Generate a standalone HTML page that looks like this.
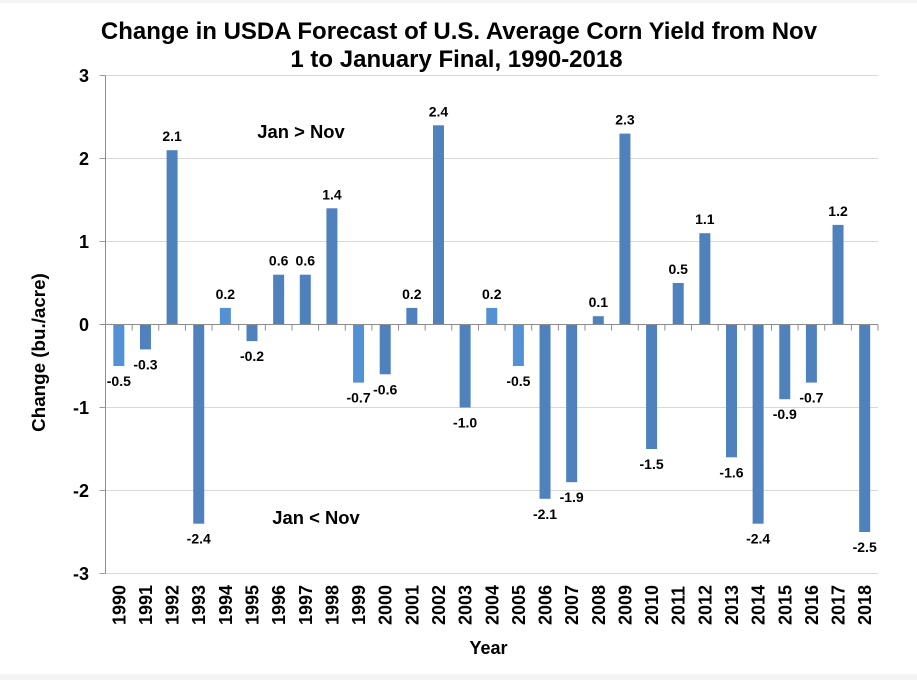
<!DOCTYPE html>
<html lang="en">
<head>
<meta charset="utf-8">
<title>Change in USDA Forecast of U.S. Average Corn Yield</title>
<style>
html,body{margin:0;padding:0;background:#fff;}
body{width:917px;height:680px;overflow:hidden;}
svg{display:block;}
text{font-family:"Liberation Sans",Arial,sans-serif;font-weight:bold;fill:#000;}
</style>
</head>
<body>
<svg id="chart" xmlns="http://www.w3.org/2000/svg" width="917" height="680" viewBox="0 0 917 680">
  <rect x="0" y="0" width="917" height="3" fill="#f4f4f4"/>
  <rect x="0" y="674" width="917" height="6" fill="#f4f4f4"/>
  <text x="459" y="39" font-size="24" text-anchor="middle">Change in USDA Forecast of U.S. Average Corn Yield from Nov</text>
  <text x="456.5" y="67" font-size="24" text-anchor="middle">1 to January Final, 1990-2018</text>
  <text x="301" y="138" font-size="18.4" text-anchor="middle">Jan &gt; Nov</text>
  <text x="316" y="524" font-size="18.4" text-anchor="middle">Jan &lt; Nov</text>
  <text x="488.5" y="654" font-size="18" text-anchor="middle">Year</text>
  <text transform="translate(45,352.5) rotate(-90)" font-size="18.8" text-anchor="middle">Change (bu./acre)</text>
  <g id="grid"></g>
  <g id="bars"></g>
  <g id="axes"></g>
  <g id="labels"></g>
</svg>
<script>
const years = [1990,1991,1992,1993,1994,1995,1996,1997,1998,1999,2000,2001,2002,2003,2004,2005,2006,2007,2008,2009,2010,2011,2012,2013,2014,2015,2016,2017,2018];
const changes = [-0.5,-0.3,2.1,-2.4,0.2,-0.2,0.6,0.6,1.4,-0.7,-0.6,0.2,2.4,-1.0,0.2,-0.5,-2.1,-1.9,0.1,2.3,-1.5,0.5,1.1,-1.6,-2.4,-0.9,-0.7,1.2,-2.5];
const yTicks = [3,2,1,0,-1,-2,-3];
const lighterYears = [1990,1994,1999,2004,2005];

const NS = 'http://www.w3.org/2000/svg';
const plotLeft = 105.5, plotRight = 878, plotTop = 75.5, plotBottom = 573.5;
const yMin = -3, yMax = 3;
const step = (plotRight - plotLeft) / years.length;
const barWidth = 11;
function xScale(i){ return plotLeft + step * (i + 0.5); }
function yScale(v){ return plotTop + (yMax - v) / (yMax - yMin) * (plotBottom - plotTop); }
function make(tag, parent, attrs, content){
  const el = document.createElementNS(NS, tag);
  for (const k in attrs) el.setAttribute(k, attrs[k]);
  if (content !== undefined) el.textContent = content;
  parent.appendChild(el);
  return el;
}
const grid = document.getElementById('grid');
const bars = document.getElementById('bars');
const axes = document.getElementById('axes');
const labels = document.getElementById('labels');

yTicks.forEach(function(t){
  const y = yScale(t);
  if (t !== 0) {
    const g = make('line', grid, {x1: plotLeft, x2: plotRight, y1: y, y2: y, stroke: '#d9d9d9', 'stroke-width': 1});
    
    
  }
  const m = make('line', axes, {x1: plotLeft - 6, x2: plotLeft, y1: y, y2: y, stroke: '#9a9a9a', 'stroke-width': 1});
  
  
  const l = make('text', labels, {x: 89, y: y + 6.5, 'font-size': 18, 'text-anchor': 'end'}, String(t));
  
  
});

years.forEach(function(yr, i){
  const v = changes[i];
  const cx = xScale(i);
  const y0 = yScale(0), yv = yScale(v);
  const r = make('rect', bars, {
    x: cx - barWidth / 2, y: Math.min(y0, yv), width: barWidth, height: Math.abs(yv - y0),
    fill: lighterYears.indexOf(yr) >= 0 ? '#5490d4' : '#4f81bd'
  });
  
  

  const lab = make('text', labels, {
    x: cx, y: v >= 0 ? yv - 9 : yv + 20, 'font-size': 14, 'text-anchor': 'middle'
  }, v.toFixed(1));
  
  

  const t = make('text', labels, {
    transform: 'translate(' + (cx + 6.5) + ',625) rotate(-90)', 'font-size': 18, 'text-anchor': 'start'
  }, String(yr));
  
  
});

for (let i = 0; i <= years.length; i++) {
  const x = plotLeft + step * i;
  const tk = make('line', axes, {x1: x, x2: x, y1: yScale(0), y2: yScale(0) + 6, stroke: '#8c8c8c', 'stroke-width': 1});
  
  
}
const yAxis = make('line', axes, {x1: plotLeft, x2: plotLeft, y1: plotTop, y2: plotBottom, stroke: '#8c8c8c', 'stroke-width': 1});


const xAxis = make('line', axes, {x1: plotLeft - 6, x2: plotRight, y1: yScale(0), y2: yScale(0), stroke: '#8c8c8c', 'stroke-width': 1});


</script>
</body>
</html>
